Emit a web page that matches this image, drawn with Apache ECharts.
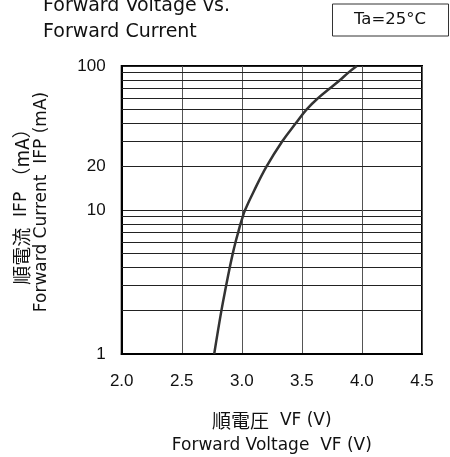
<!DOCTYPE html>
<html>
<head>
<meta charset="utf-8">
<script src="https://cdn.jsdelivr.net/npm/echarts@6/dist/echarts.min.js"></script>
<style>
html,body{margin:0;padding:0;background:#fff;}
#chart{width:450px;height:457px;}
</style>
</head>
<body>
<div id="chart"></div>
<script>
// Data
var forwardVoltage = [2.77, 2.83, 2.87, 2.90, 2.925, 2.948, 2.970, 2.989, 3.008, 3.027, 3.10, 3.205, 3.337, 3.449, 3.54, 3.637, 3.734, 3.818, 3.887, 3.957];
var forwardCurrent = [1, 2, 3, 4, 5, 6, 7, 8, 9, 10, 13.5, 20, 30, 40, 50, 60, 70, 80, 90, 100];
var minorGridValues = [2, 3, 4, 5, 6, 7, 8, 9, 20, 30, 40, 50, 60, 70, 80, 90];
var extraYLabels = [20];
var xTickValues = [2.0, 2.5, 3.0, 3.5, 4.0, 4.5];

var LATIN = '"DejaVu Sans", "Noto Sans CJK JP", sans-serif';
var TICKF = '"Liberation Sans", Arial, sans-serif';
var CJK = '"Noto Sans CJK JP", sans-serif';
var chart = echarts.init(document.getElementById('chart'));

var points = forwardVoltage.map(function (v, i) { return [v, forwardCurrent[i]]; });
var gridLines = minorGridValues.map(function (v) {
  var isLabeled = extraYLabels.indexOf(v) >= 0;
  return {
    yAxis: v,
    label: {
      show: isLabeled,
      position: 'start',
      distance: 16,
      formatter: String(v),
      fontSize: 17,
      color: '#111',
      fontFamily: TICKF
    }
  };
});

chart.setOption({
  animation: false,
  backgroundColor: '#fff',
  title: {
    text: 'Forward Voltage vs.\nForward Current',
    left: 43,
    top: -7,
    padding: 0,
    textStyle: { fontSize: 19, fontWeight: 'normal', color: '#111', lineHeight: 26, fontFamily: LATIN }
  },
  graphic: [
    {
      type: 'rect',
      left: 332, top: 3.5,
      shape: { width: 116, height: 32 },
      style: { fill: '#fff', stroke: '#333', lineWidth: 1 }
    },
    {
      type: 'text',
      x: 390, y: 20,
      style: {
        text: 'Ta=25°C', fontSize: 16.5, fill: '#111', fontFamily: LATIN,
        align: 'center', verticalAlign: 'middle', textAlign: 'center', textVerticalAlign: 'middle'
      }
    }
  ],
  grid: {
    left: 121.7, right: 28, top: 66, bottom: 103,
    outerBoundsMode: 'none',
    containLabel: false,
    show: true, borderColor: '#000', borderWidth: 2, backgroundColor: 'transparent'
  },
  xAxis: {
    type: 'value',
    min: 2.0, max: 4.5, interval: 0.5,
    name: '{cjk|順電圧}  VF (V)\nForward Voltage  VF (V)',
    nameLocation: 'middle',
    nameGap: 54,
    nameTextStyle: {
      fontSize: 17, color: '#111', lineHeight: 25, fontFamily: LATIN,
      rich: { cjk: { fontSize: 19, color: '#111', lineHeight: 25, fontFamily: CJK } }
    },
    axisLine: { show: true, lineStyle: { color: '#000', width: 2 } },
    axisTick: { show: false },
    axisLabel: {
      margin: 19, fontSize: 17, color: '#111', fontFamily: TICKF,
      formatter: function (v) { return xTickValues.indexOf(v) >= 0 ? v.toFixed(1) : ''; }
    },
    splitLine: { show: true, lineStyle: { color: '#555', width: 1 } }
  },
  yAxis: {
    type: 'log',
    logBase: 10,
    min: 1, max: 100,
    name: '{cjk|順電流}  IFP {cjk|（mA）}\nForward Current  IFP (mA)',
    nameLocation: 'middle',
    nameGap: 70,
    nameRotate: 90,
    nameTextStyle: {
      fontSize: 17, color: '#111', lineHeight: 20, fontFamily: LATIN,
      padding: [0, 0, 0, 16],
      rich: { cjk: { fontSize: 19, color: '#111', lineHeight: 20, fontFamily: CJK } }
    },
    axisLine: { show: true, lineStyle: { color: '#000', width: 2 } },
    axisTick: { show: false },
    axisLabel: { margin: 16, fontSize: 17, color: '#111', fontFamily: TICKF },
    splitLine: { show: true, lineStyle: { color: '#222', width: 1 } }
  },
  series: [
    {
      type: 'line',
      data: points,
      smooth: 0.4,
      symbol: 'none',
      lineStyle: { color: '#333', width: 2.5 },
      z: 5,
      markLine: {
        silent: true,
        symbol: ['none', 'none'],
        animation: false,
        lineStyle: { type: 'solid', color: '#222', width: 1 },
        data: gridLines
      }
    }
  ]
});
</script>
</body>
</html>
